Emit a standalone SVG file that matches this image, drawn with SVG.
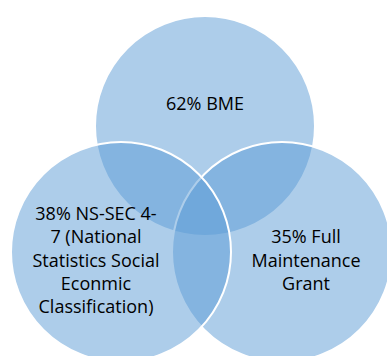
<svg xmlns="http://www.w3.org/2000/svg" width="387" height="356" viewBox="0 0 387 356">
<style>
.c{fill:#5B9BD5;fill-opacity:0.5;stroke:#FFFFFF;stroke-width:2}
.t{font-family:"Open Sans","Noto Sans",sans-serif;font-size:18px;fill:#000000;text-anchor:middle}
</style>
<rect width="387" height="356" fill="#FFFFFF"/>
<g id="bme">
<circle class="c" cx="205" cy="126" r="110"/>
</g>
<g id="grant">
<circle class="c" cx="282" cy="252" r="110"/>
</g>
<g id="nssec">
<circle class="c" cx="121" cy="252" r="110"/>
</g>
<g id="labels">
<text class="t" x="205" y="110">62% BME</text>
<text class="t" x="96" y="220">38% NS-SEC 4-</text>
<text class="t" x="96" y="243.3">7 (National</text>
<text class="t" x="96" y="266.7">Statistics Social</text>
<text class="t" x="96" y="290">Econmic</text>
<text class="t" x="96" y="313.3">Classification)</text>
<text class="t" x="306" y="243.3">35% Full</text>
<text class="t" x="306" y="266.7">Maintenance</text>
<text class="t" x="306" y="290">Grant</text>
</g>
<g id="connectors"/>
</svg>
